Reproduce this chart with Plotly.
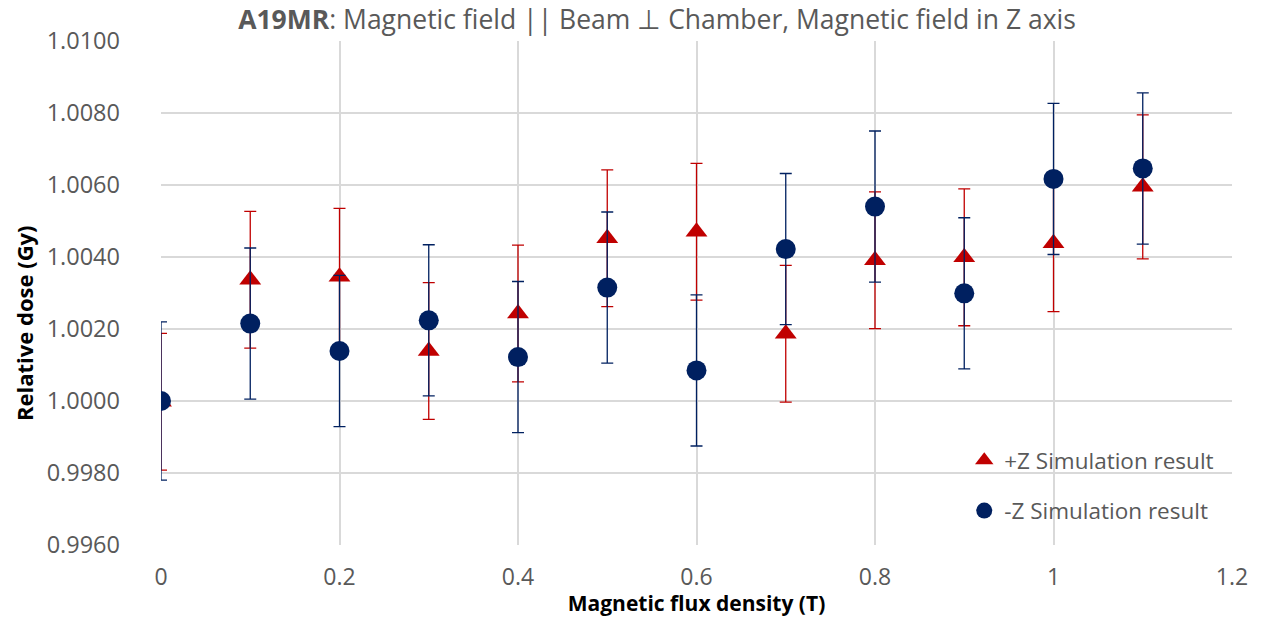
import plotly.graph_objects as go

# Data
field_T = [0, 0.1, 0.2, 0.3, 0.4, 0.5, 0.6, 0.7, 0.8, 0.9, 1.0, 1.1]
plus_z = [0.99998, 1.00337, 1.00345, 1.00139, 1.00243, 1.00452, 1.00470, 1.00187, 1.00391, 1.00399, 1.00438, 1.00595]
plus_z_err = [0.0019, 0.0019, 0.0019, 0.0019, 0.0019, 0.0019, 0.0019, 0.0019, 0.0019, 0.0019, 0.0019, 0.0020]
minus_z = [1.00000, 1.00215, 1.00139, 1.00224, 1.00122, 1.00315, 1.00085, 1.00422, 1.00540, 1.00299, 1.00617, 1.00646]
minus_z_err = [0.0022, 0.0021, 0.0021, 0.0021, 0.0021, 0.0021, 0.0021, 0.0021, 0.0021, 0.0021, 0.0021, 0.0021]

RED = "#C00000"
NAVY = "#002060"
GRAY = "#595959"
GRID = "#D9D9D9"
FONT = "Open Sans"

fig = go.Figure()
fig.add_trace(go.Scatter(
    x=field_T, y=plus_z, mode="markers", name="+Z Simulation result",
    legendgroup="p",
    marker=dict(symbol="triangle-up", size=19, color=RED),
    error_y=dict(type="data", array=plus_z_err, visible=True, color=RED, thickness=1.3, width=6),
))
fig.add_trace(go.Scatter(
    x=field_T, y=minus_z, mode="markers", name="-Z Simulation result",
    legendgroup="m",
    marker=dict(symbol="circle", size=20, color=NAVY),
    error_y=dict(type="data", array=minus_z_err, visible=True, color=NAVY, thickness=1.3, width=6),
))

fig.update_layout(
    width=1262, height=617,
    margin=dict(l=161, r=30, t=41, b=72, autoexpand=False),
    paper_bgcolor="white", plot_bgcolor="white",
    font=dict(family=FONT, color=GRAY, size=22),
    title=dict(
        text="<b>A19MR</b>: Magnetic field || Beam ⊥ Chamber, Magnetic field in Z axis",
        x=657 / 1262, xanchor="center", xref="container",
        y=1 - 20 / 617, yanchor="middle", yref="container",
        font=dict(family=FONT, size=26.5, color=GRAY),
    ),
    showlegend=True,
    legend=dict(
        x=0.75, y=0.21, xanchor="left", yanchor="top",
        bgcolor="rgba(0,0,0,0)", font=dict(family=FONT, size=22.5, color=GRAY),
        traceorder="grouped", tracegroupgap=18,
    ),
    xaxis=dict(
        range=[0, 1.2], dtick=0.2, tick0=0,
        showgrid=True, gridcolor=GRID, gridwidth=1.5,
        zeroline=False, showline=False, ticks="",
        ticklabelstandoff=16,
        tickfont=dict(family=FONT, size=23, color=GRAY),
        title=dict(text="<b>Magnetic flux density (T)</b>", standoff=0,
                   font=dict(family=FONT, size=21, color="black")),
        automargin=False,
    ),
    yaxis=dict(
        range=[0.996, 1.010], dtick=0.002, tick0=0.996, tickformat=".4f",
        showgrid=True, gridcolor=GRID, gridwidth=1.5,
        zeroline=False, showline=False, ticks="",
        ticklabelstandoff=40,
        tickfont=dict(family=FONT, size=23.5, color=GRAY),
        automargin=False,
    ),
    annotations=[dict(
        text="<b>Relative dose (Gy)</b>", textangle=-90,
        xref="paper", yref="paper",
        x=(24 - 161) / 1071, y=(545 - 323) / 504,
        xanchor="center", yanchor="middle", showarrow=False,
        font=dict(family=FONT, size=22, color="black"),
    )],
)

fig.write_html("out.html")
